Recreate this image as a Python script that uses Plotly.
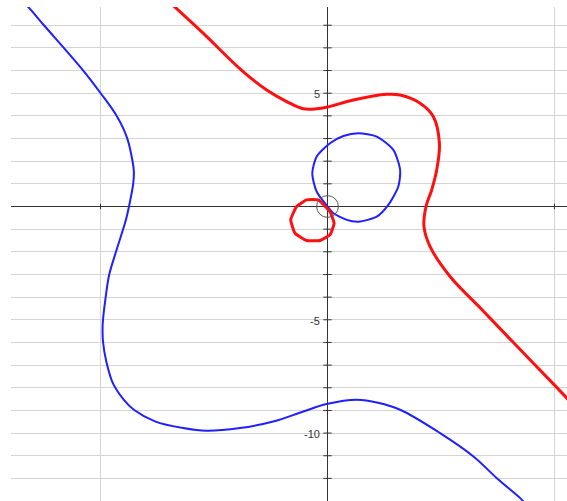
import plotly.graph_objects as go

# Outer blue branch (left side sweeping down to the lower right)
blue_outer_x = [-13.45, -13.19, -12.5, -10.77, -10.0, -9.29, -8.83, -8.59, -8.53, -8.56, -8.74,
                -8.88, -9.29, -9.62, -9.77, -9.89, -9.91, -9.89, -9.74, -9.44, -8.97, -8.53,
                -7.6, -6.36, -5.33, -3.86, -2.39, -1.07, -0.04, 1.29, 2.23, 3.2, 4.96, 6.43,
                7.46, 8.49, 8.7]
blue_outer_y = [9.05, 8.81, 8.01, 6.01, 5.01, 4.0, 3.03, 2.01, 1.53, 1.0, 0.03,
                -0.59, -1.91, -3.02, -3.99, -5.0, -5.44, -5.97, -6.86, -7.83, -8.53, -8.97,
                -9.48, -9.78, -9.9, -9.78, -9.49, -9.05, -8.72, -8.53, -8.66, -8.97, -10.0, -11.03,
                -11.99, -12.87, -13.1]

# Outer red branch (top left, over the top, down the right side)
red_outer_x = [-6.94, -5.48, -3.78, -2.68, -1.8, -1.07, -0.48, -0.04, 1.14, 2.61, 3.2, 4.08,
               4.66, 4.93, 4.81, 4.59, 4.34, 4.25, 4.52, 5.4, 6.87, 8.34, 9.96, 10.91]
red_outer_y = [9.0, 7.65, 6.01, 5.14, 4.63, 4.31, 4.31, 4.38, 4.7, 4.95, 4.92, 4.56,
               3.97, 2.79, 1.61, 0.73, 0.0, -0.89, -1.77, -3.09, -4.62, -6.16, -7.84, -8.84]

# Small red loop below-left of the origin
red_loop_x = [-0.92, -0.41, 0.11, 0.29, 0.11, -0.33, -0.92, -1.43, -1.62, -1.36, -0.92]
red_loop_y = [0.29, 0.29, -0.23, -0.74, -1.25, -1.5, -1.5, -1.18, -0.59, 0.0, 0.29]

# Blue loop through the origin
blue_loop_x = [0.0, -0.48, -0.67, -0.48, 0.11, 0.7, 1.36, 2.17, 2.9, 3.2, 3.12, 2.68,
               2.17, 1.36, 0.85, 0.26, 0.0]
blue_loop_y = [0.0, 0.66, 1.47, 2.2, 2.79, 3.11, 3.23, 3.08, 2.5, 1.61, 0.88, 0.07,
               -0.45, -0.67, -0.59, -0.3, 0.0]

# Axis ticks and labels
y_ticks = list(range(-12, 9))
x_ticks = [-10, 10]
y_labels = [5, -5, -10]
origin_radius = 0.48

X_RANGE = [-13.943, 10.551]
Y_RANGE = [-12.997, 8.804]

fig = go.Figure()

# tick marks along the y axis
fig.add_trace(go.Scatter(
    x=[0] * len(y_ticks), y=y_ticks, mode="markers",
    marker=dict(symbol="line-ew", size=6, line=dict(width=1, color="#333333")),
    hoverinfo="skip", showlegend=False))
# tick marks along the x axis
fig.add_trace(go.Scatter(
    x=x_ticks, y=[0] * len(x_ticks), mode="markers",
    marker=dict(symbol="line-ns", size=4, line=dict(width=1, color="#333333")),
    hoverinfo="skip", showlegend=False))

fig.add_trace(go.Scatter(x=blue_outer_x, y=blue_outer_y, mode="lines",
                         line=dict(color="#1f1fff", width=2, shape="spline", smoothing=1.0),
                         hoverinfo="skip", showlegend=False))
fig.add_trace(go.Scatter(x=blue_loop_x, y=blue_loop_y, mode="lines",
                         line=dict(color="#1f1fff", width=2, shape="spline", smoothing=0.7),
                         hoverinfo="skip", showlegend=False))
fig.add_trace(go.Scatter(x=red_outer_x, y=red_outer_y, mode="lines",
                         line=dict(color="#ff1010", width=3, shape="spline", smoothing=1.0),
                         hoverinfo="skip", showlegend=False))
fig.add_trace(go.Scatter(x=red_loop_x, y=red_loop_y, mode="lines",
                         line=dict(color="#ff1010", width=3, shape="spline", smoothing=0.4),
                         hoverinfo="skip", showlegend=False))

# small circle marking the origin
fig.add_shape(type="circle", xref="x", yref="y",
              x0=-origin_radius, x1=origin_radius, y0=-origin_radius, y1=origin_radius,
              line=dict(color="#555555", width=1))

for v in y_labels:
    fig.add_annotation(x=0, y=v, text=str(v), showarrow=False, xanchor="right",
                       yanchor="middle", xshift=-6, yshift=-1,
                       font=dict(family="Arial, Liberation Sans, sans-serif", size=11, color="#333333"))

fig.update_xaxes(range=X_RANGE, dtick=10, tick0=0, showgrid=True, gridcolor="#d4d4d4",
                 gridwidth=1, zeroline=True, zerolinecolor="#333333", zerolinewidth=1,
                 showticklabels=False, ticks="", showline=False)
fig.update_yaxes(range=Y_RANGE, dtick=1, tick0=0, showgrid=True, gridcolor="#d4d4d4",
                 gridwidth=1, zeroline=True, zerolinecolor="#333333", zerolinewidth=1,
                 showticklabels=False, ticks="", showline=False)

fig.update_layout(width=567, height=501, margin=dict(l=11, r=0, t=7, b=0),
                  plot_bgcolor="white", paper_bgcolor="white", hovermode=False)

fig.write_html("out.html", config={"displayModeBar": False})
